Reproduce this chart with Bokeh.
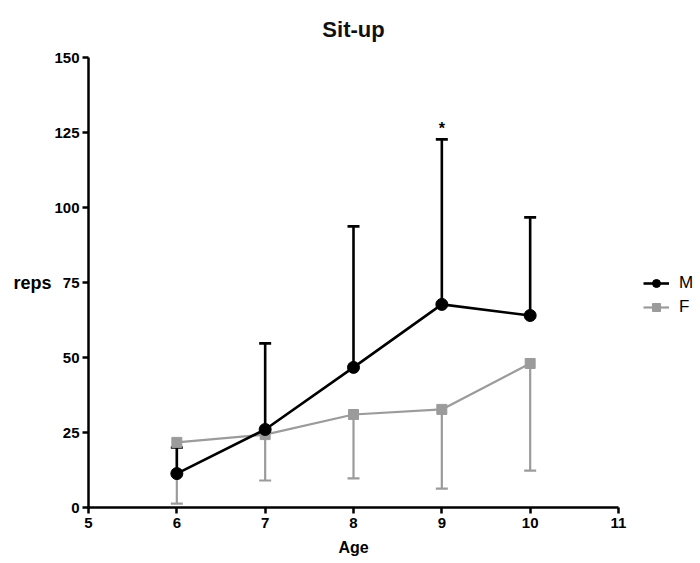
from bokeh.plotting import figure
from bokeh.models import Range1d, Whisker, TeeHead, ColumnDataSource, Legend, LegendItem
from bokeh.embed import file_html
from bokeh.resources import INLINE
from bokeh.core.properties import value

age = [6, 7, 8, 9, 10]
m_mean = [11.3, 26.0, 46.7, 67.7, 64.0]
m_sd = [8.7, 28.7, 47.0, 55.0, 32.7]
f_mean = [21.7, 24.3, 31.0, 32.7, 48.0]
f_sd = [20.4, 15.3, 21.3, 26.4, 35.7]
x_ticks = [5, 6, 7, 8, 9, 10, 11]
y_ticks = [0, 25, 50, 75, 100, 125, 150]
star_age = [9]
star_y = [126.5]

FONT = "Liberation Sans"
GRAY = "#9b9b9b"

p = figure(frame_width=530, frame_height=450, output_backend="svg", toolbar_location=None,
           x_range=Range1d(5, 11), y_range=Range1d(0, 150),
           min_border_left=88, min_border_right=0, min_border_top=57, min_border_bottom=50,
           title="Sit-up")
p.title.align = "center"
p.title.vertical_align = "top"
p.title.text_font = FONT
p.title.text_font_size = "22px"
p.title.text_font_style = "bold"
p.title.text_color = "#111111"
p.title.standoff = 28
p.outline_line_color = None
p.grid.visible = False
p.background_fill_color = "white"

for ax in (p.xaxis[0], p.yaxis[0]):
    ax.axis_line_width = 2.5
    ax.axis_line_color = "black"
    ax.major_tick_line_width = 2.5
    ax.major_tick_line_color = "black"
    ax.major_tick_out = 6
    ax.major_tick_in = 0
    ax.minor_tick_line_color = None
    ax.major_label_text_font = FONT
    ax.major_label_text_font_style = "bold"
    ax.major_label_text_font_size = "15px"
    ax.major_label_text_color = "black"
    ax.axis_label_text_font = FONT
    ax.axis_label_text_font_style = "bold"
    ax.axis_label_text_font_size = "16px"
    ax.axis_label_text_color = "black"

p.xaxis.ticker = x_ticks
p.yaxis.ticker = y_ticks
p.xaxis.major_label_standoff = 4
p.yaxis.major_label_standoff = 3
p.xaxis.axis_label = "Age"
p.xaxis.axis_label_standoff = 8
p.yaxis.axis_label = "reps"
p.yaxis.axis_label_text_font_size = "18px"
if hasattr(p.yaxis[0], "axis_label_orientation"):
    p.yaxis[0].axis_label_orientation = "horizontal"
p.yaxis.axis_label_standoff = 0

m_up = [m + s for m, s in zip(m_mean, m_sd)]
f_lo = [f - s for f, s in zip(f_mean, f_sd)]
src_m = ColumnDataSource(dict(x=age, y=m_mean, up=m_up))
src_f = ColumnDataSource(dict(x=age, y=f_mean, lo=f_lo))

wf = Whisker(source=src_f, base="x", upper="y", lower="lo", line_color=GRAY, line_width=2.2,
             upper_head=None, lower_head=TeeHead(size=12, line_color=GRAY, line_width=2.2))
wm = Whisker(source=src_m, base="x", upper="up", lower="y", line_color="black", line_width=2.6,
             lower_head=None, upper_head=TeeHead(size=12, line_color="black", line_width=2.6))
p.add_layout(wf)
p.add_layout(wm)

lf = p.line("x", "y", source=src_f, line_color=GRAY, line_width=2.2)
sf = p.scatter("x", "y", source=src_f, marker="square", size=10, fill_color=GRAY, line_color=GRAY)
lm = p.line("x", "y", source=src_m, line_color="black", line_width=2.6)
sm = p.scatter("x", "y", source=src_m, marker="circle", size=12, fill_color="black", line_color="black")

p.text(x=star_age, y=star_y, text=["*"], text_font=value(FONT), text_font_style="bold",
       text_font_size="16px", text_align="center", text_baseline="middle", text_color="black")

legend = Legend(items=[LegendItem(label="M", renderers=[lm, sm]),
                       LegendItem(label="F", renderers=[lf, sf])],
                location=(25, 190), border_line_color=None, background_fill_alpha=0,
                label_text_font=FONT, label_text_font_size="17px", label_text_color="black",
                glyph_width=26, glyph_height=20, spacing=4, padding=0, margin=0,
                label_standoff=10)
p.add_layout(legend, "right")

open("out.html", "w").write(file_html(p, INLINE))
